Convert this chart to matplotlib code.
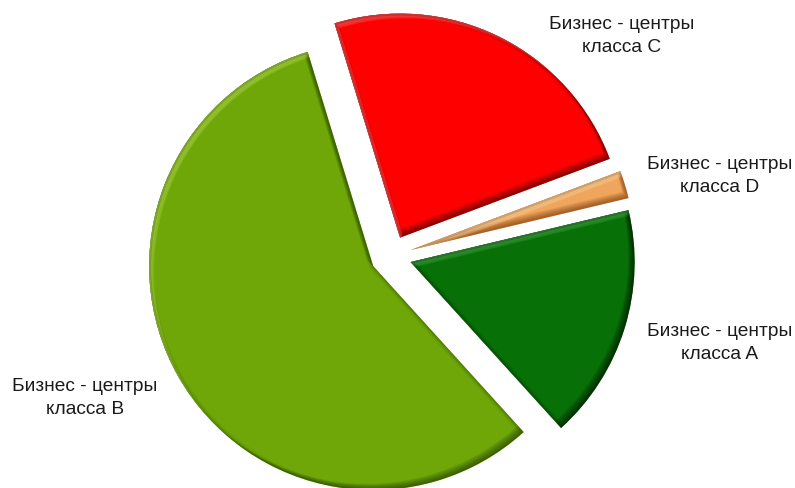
import numpy as np
import matplotlib.pyplot as plt
from matplotlib.path import Path
from matplotlib.patches import Wedge, PathPatch

plt.rcParams['font.family'] = ['Liberation Sans', 'DejaVu Sans']

# доли бизнес-центров по классам (по часовой стрелке, начиная с класса C)
labels = ['Бизнес - центры\nкласса C', 'Бизнес - центры\nкласса D',
          'Бизнес - центры\nкласса A', 'Бизнес - центры\nкласса B']
shares = [24, 2, 17, 57]
colors = ['#FE0000', '#F0A55C', '#077007', '#6EA707']
light_colors = ['#FF8080', '#FFE6B8', '#5CBC5C', '#C8EC60']
dark_colors = ['#7A0000', '#9A5820', '#012A01', '#365800']

# подписи ставим вручную (в пикселях, от верхнего левого угла)
label_pos = [(622, 36), (720, 176), (720, 343), (85, 398)]

W, H = 795, 488
fig = plt.figure(figsize=(W / 100, H / 100), dpi=100)
ax = fig.add_axes([0, 0, 1, 1])

radius = 224
wedges, _ = ax.pie(shares, colors=colors, startangle=107, counterclock=False,
                   explode=[20.5] * len(shares), radius=radius,
                   center=(391, H - 256), frame=True,
                   wedgeprops=dict(linewidth=0))
ax.set_xlim(0, W)
ax.set_ylim(0, H)
ax.set_aspect('equal')
ax.axis('off')

# свет падает сверху слева
light_dir = np.array([1.0, -1.0]) / np.sqrt(2)


def wedge_poly(w, shift=(0.0, 0.0), n=240):
    th = np.radians(np.linspace(w.theta1, w.theta2, n))
    cx, cy = w.center
    xs = np.r_[cx, cx + w.r * np.cos(th), cx] + shift[0]
    ys = np.r_[cy, cy + w.r * np.sin(th), cy] + shift[1]
    return np.column_stack([xs, ys])


def edge_strip(w, shift):
    # сектор минус его сдвинутая копия -> полоска вдоль одной стороны
    outer = Path(wedge_poly(w), closed=True)
    inner = Path(wedge_poly(w, shift)[::-1], closed=True)
    return Path.make_compound_path(outer, inner)


# объёмная кромка секторов
for w, light, dark in zip(wedges, light_colors, dark_colors):
    for t in range(1, 10):
        sh = PathPatch(edge_strip(w, -t * light_dir), facecolor=dark,
                       edgecolor='none', alpha=0.14)
        ax.add_patch(sh)
        sh.set_clip_path(w)
    for t in range(2, 8):
        hl = PathPatch(edge_strip(w, t * light_dir), facecolor=light,
                       edgecolor='none', alpha=0.17)
        ax.add_patch(hl)
        hl.set_clip_path(w)
    for lw, a in [(6, 0.12), (3, 0.3)]:
        rim = Wedge(w.center, w.r, w.theta1, w.theta2, facecolor='none',
                    edgecolor=dark, lw=lw, alpha=a)
        ax.add_patch(rim)
        rim.set_clip_path(w)

for text, (x, y) in zip(labels, label_pos):
    ax.text(x, H - y, text, ha='center', va='center', fontsize=13.8,
            linespacing=1.42, color='#1A1A1A')

fig.savefig('out.png', dpi=100)
